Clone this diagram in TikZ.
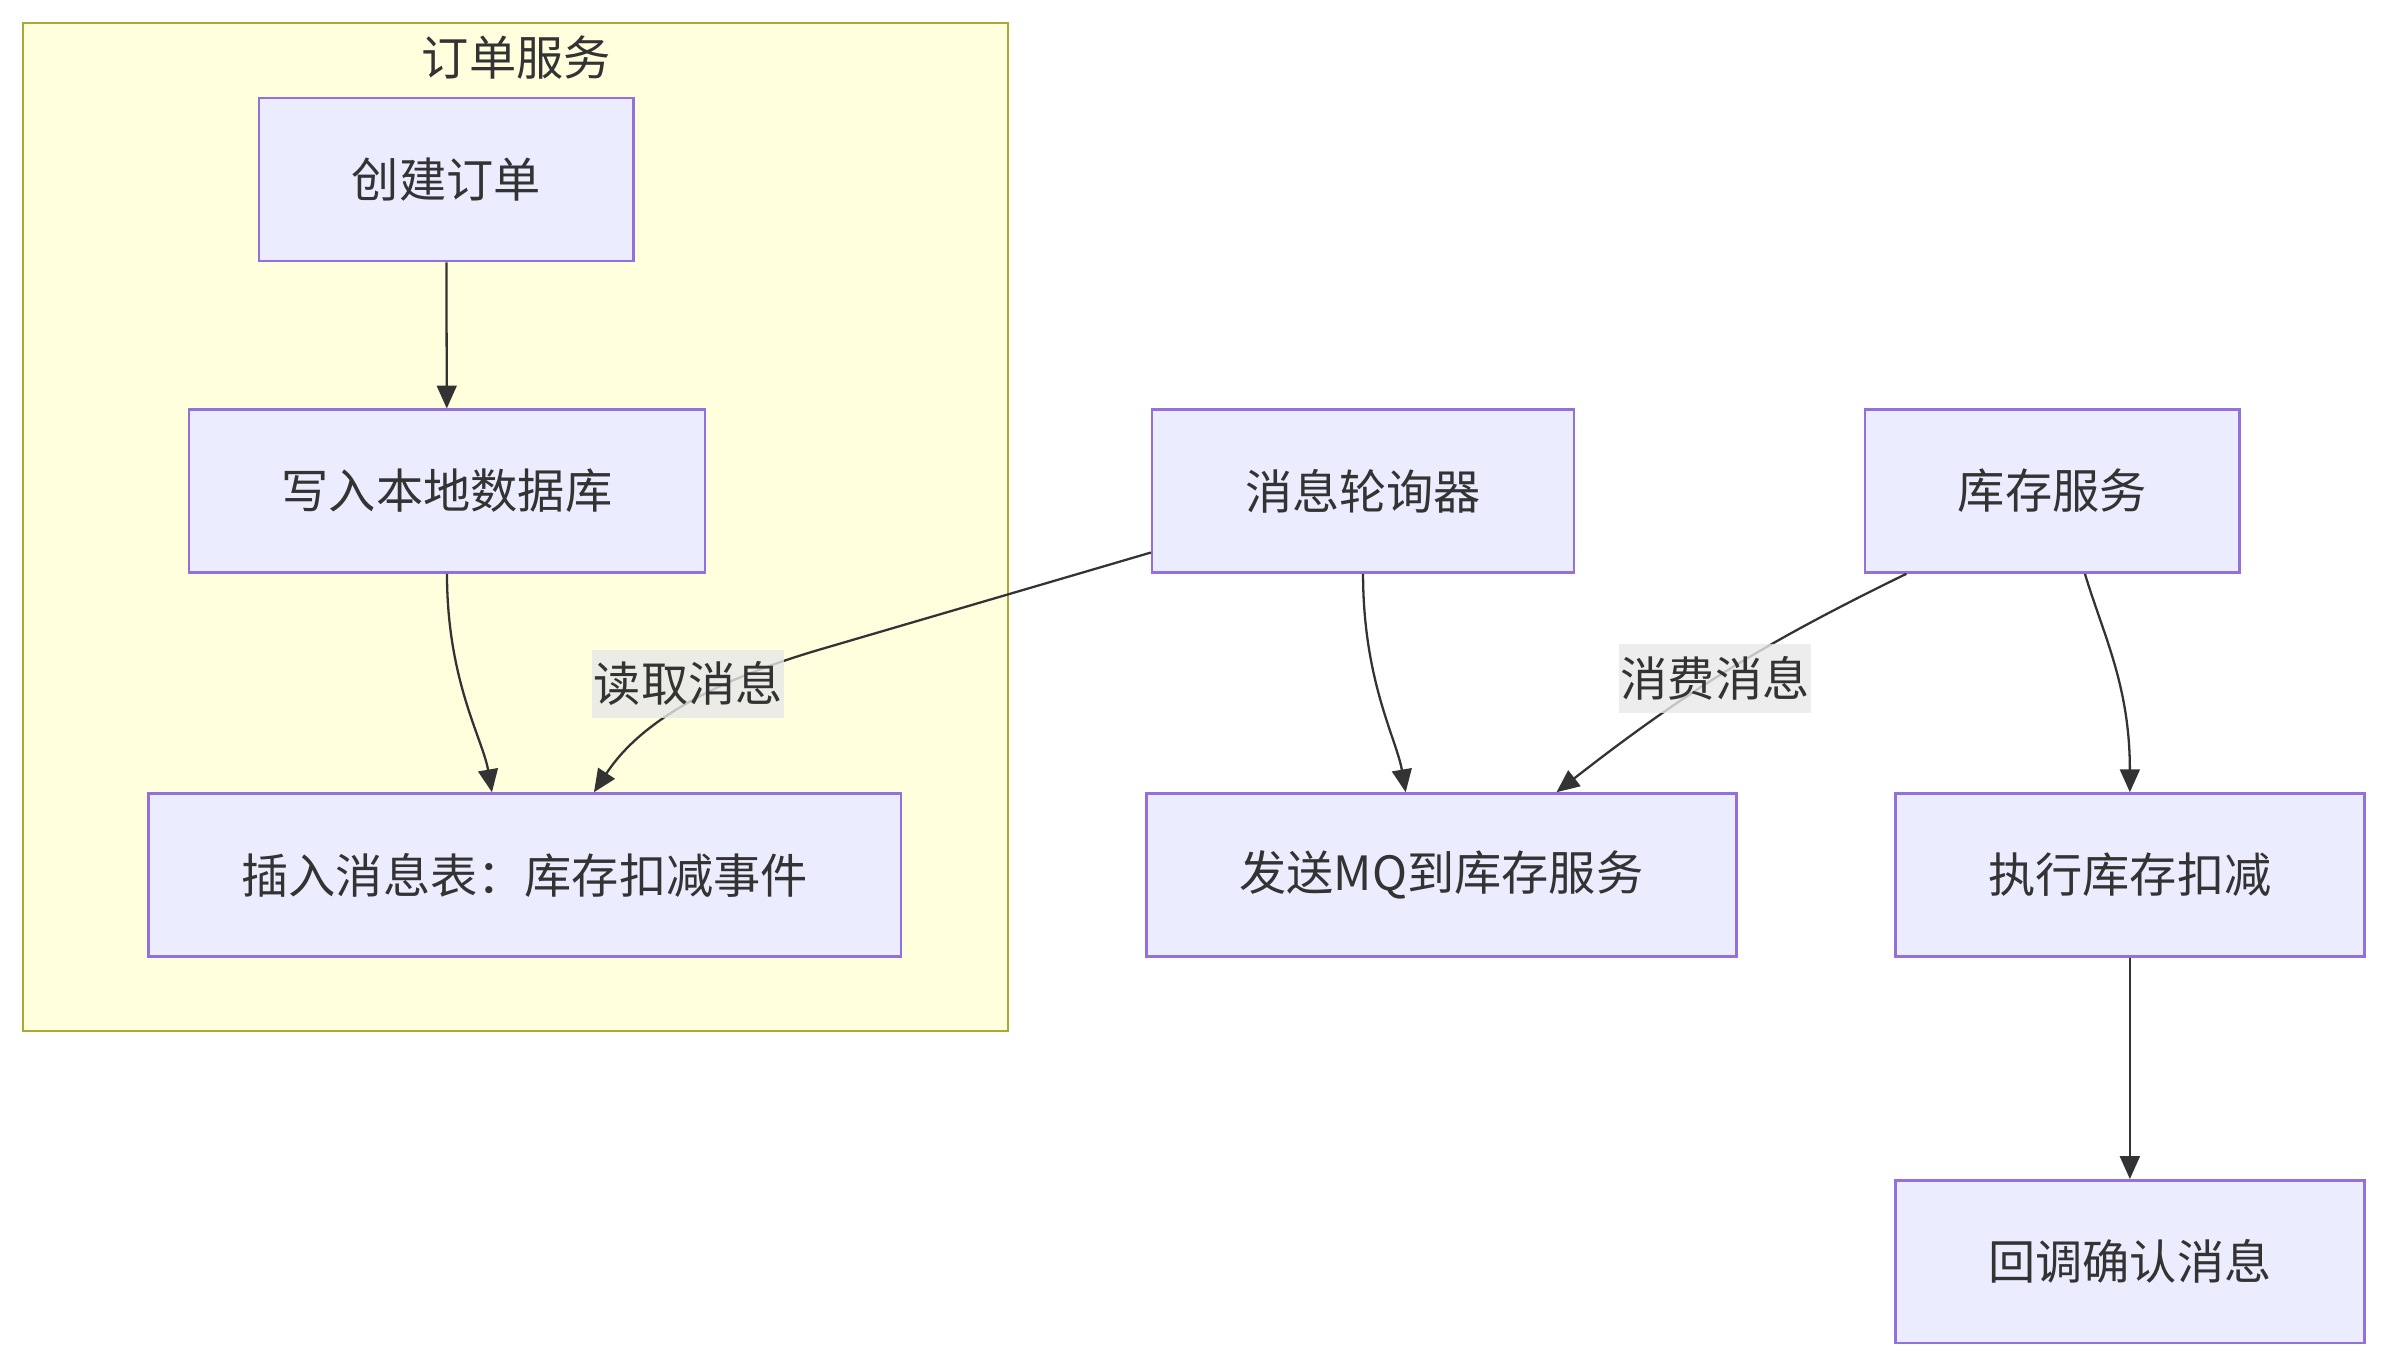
\documentclass[tikz,border=0pt]{standalone}
\usepackage{fontspec}
\setmainfont{Noto Sans CJK SC}
\usetikzlibrary{arrows.meta}
\usepackage{xcolor}
\definecolor{nodefill}{HTML}{ECECFF}
\definecolor{nodeline}{HTML}{9370DB}
\definecolor{clusterfill}{HTML}{FFFFDE}
\definecolor{clusterline}{HTML}{AAAA33}
\definecolor{edgegray}{HTML}{333333}
\definecolor{lblfill}{HTML}{E8E8E8}

\begin{document}
\begin{tikzpicture}[x=0.5pt, y=-0.5pt, >={Triangle[length=7.5pt, width=6.5pt]},
  box/.style={rectangle, draw=nodeline, fill=nodefill, line width=0.8pt, minimum height=53.5pt, inner xsep=30.5pt, text=edgegray, font=\fontsize{15.5}{18}\selectfont},
  cluster/.style={rectangle, draw=clusterline, fill=clusterfill, line width=0.8pt},
  lbl/.style={fill=lblfill, fill opacity=0.8, text opacity=1, text=edgegray, inner xsep=0.5pt, inner ysep=4pt, font=\fontsize{15.5}{18}\selectfont},
  arr/.style={->, draw=edgegray, line width=0.75pt}]
  \useasboundingbox (0,0) rectangle (1568,898);
  % Order service group
  \node[cluster, minimum width=323.5pt, minimum height=331pt] (ordersvc) at (338.5,346) {};
  \node[text=edgegray, font=\fontsize{15.5}{18}\selectfont] (ordertitle) at (339,38) {订单服务};
  \node[box] (create) at (293,118) {创建订单};
  \node[box] (writedb) at (293.5,322.5) {写入本地数据库};
  \node[box] (insertmsg) at (344.5,574.5) {插入消息表：库存扣减事件};
  % Poller and stock service
  \node[box] (poller) at (895,322.5) {消息轮询器};
  \node[box] (stocksvc) at (1347.5,322.5) {库存服务};
  \node[box] (sendmq) at (946.5,574.5) {发送MQ到库存服务};
  \node[box] (deduct) at (1398.5,574.5) {执行库存扣减};
  \node[box] (callback) at (1398.5,828.5) {回调确认消息};
  % Edges
  \draw[arr] (create) -- (writedb);
  \draw[arr] (writedb.south) .. controls +(0,70) and +(-6,-35) .. ([xshift=-10.75pt]insertmsg.north);
  \draw[arr] ([yshift=7pt]poller.south west) -- (540,426) .. controls (440,455) and (410,490) .. ([xshift=22.75pt]insertmsg.north);
  \node[lbl] (readlbl) at (452,449) {读取消息};
  \draw[arr] (poller.south) .. controls +(0,70) and +(-6,-35) .. ([xshift=-11.75pt]sendmq.north);
  \draw[arr] ([xshift=14pt]stocksvc.south west) to[bend right=6] node[lbl, pos=0.53] (consumelbl) {消费消息} ([xshift=37.75pt]sendmq.north);
  \draw[arr] ([xshift=10.75pt]stocksvc.south) .. controls +(12,40) and +(0,-70) .. (deduct.north);
  \draw[arr] (deduct) -- (callback);
\end{tikzpicture}
\end{document}
